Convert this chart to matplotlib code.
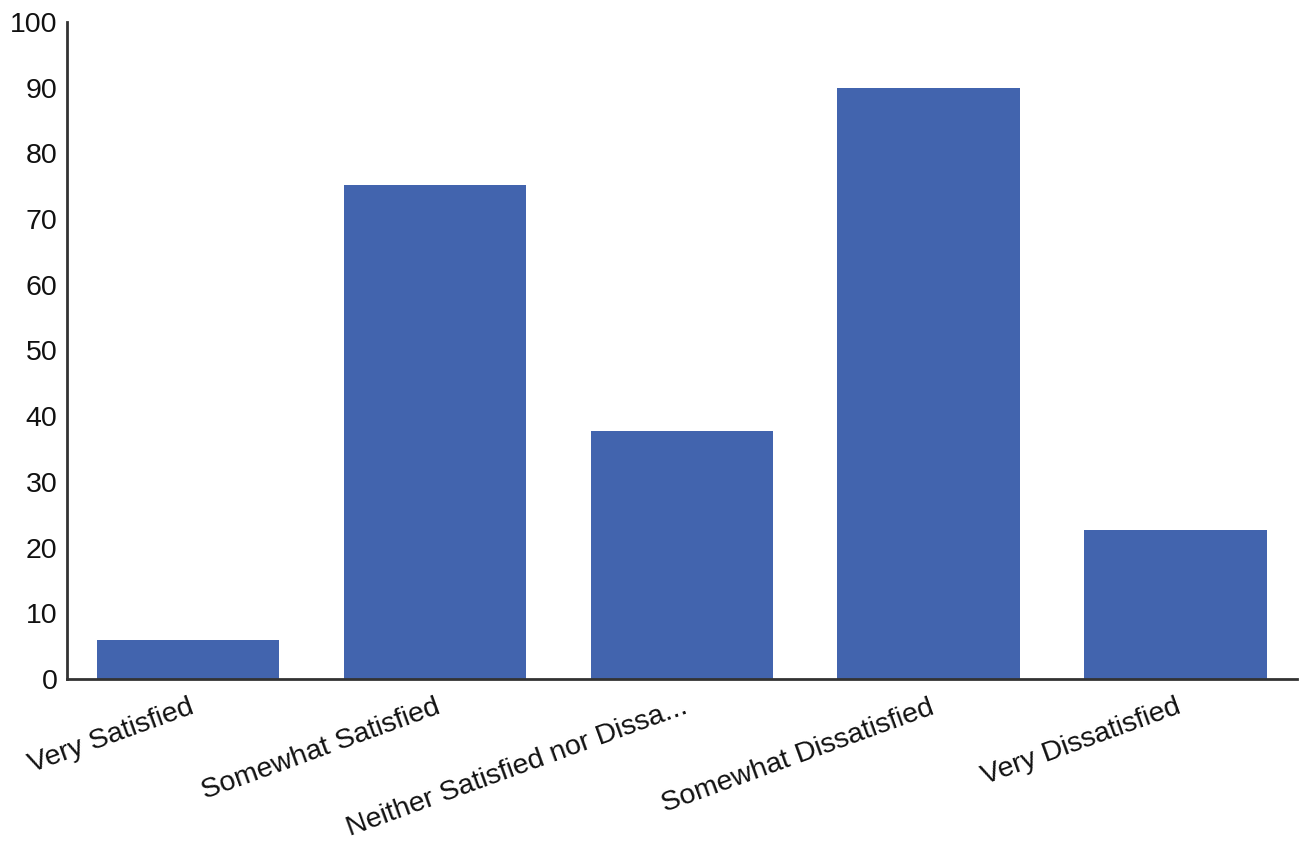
import matplotlib
matplotlib.use('Agg')
import matplotlib.pyplot as plt

# survey answers and counts
categories = ['Very Satisfied', 'Somewhat Satisfied', 'Neither Satisfied nor Dissa...',
              'Somewhat Dissatisfied', 'Very Dissatisfied']
counts = [6, 75.2, 37.8, 90, 22.7]
y_ticks = [0, 10, 20, 30, 40, 50, 60, 70, 80, 90, 100]

plt.rcParams['font.family'] = ['Liberation Sans', 'DejaVu Sans']

fig = plt.figure(figsize=(13.02, 8.44), dpi=100)
ax = fig.add_axes([0.0515, 0.1955, 0.9445, 0.7785])

ax.bar(range(len(categories)), counts, width=0.74, color='#4264ae')

ax.set_xlim(-0.49, len(categories) - 0.51)
ax.set_ylim(0, 100)
ax.set_yticks(y_ticks)
ax.set_xticks(range(len(categories)))
ax.set_xticklabels(categories, rotation=20, ha='right', rotation_mode='anchor')
ax.tick_params(axis='both', length=0, labelsize=20.5, colors='#111111')
ax.tick_params(axis='x', pad=11)
ax.tick_params(axis='y', pad=7)

for s in ['top', 'right']:
    ax.spines[s].set_visible(False)
for s in ['left', 'bottom']:
    ax.spines[s].set_color('#333333')
    ax.spines[s].set_linewidth(2)

fig.savefig('out.png', dpi=100)
